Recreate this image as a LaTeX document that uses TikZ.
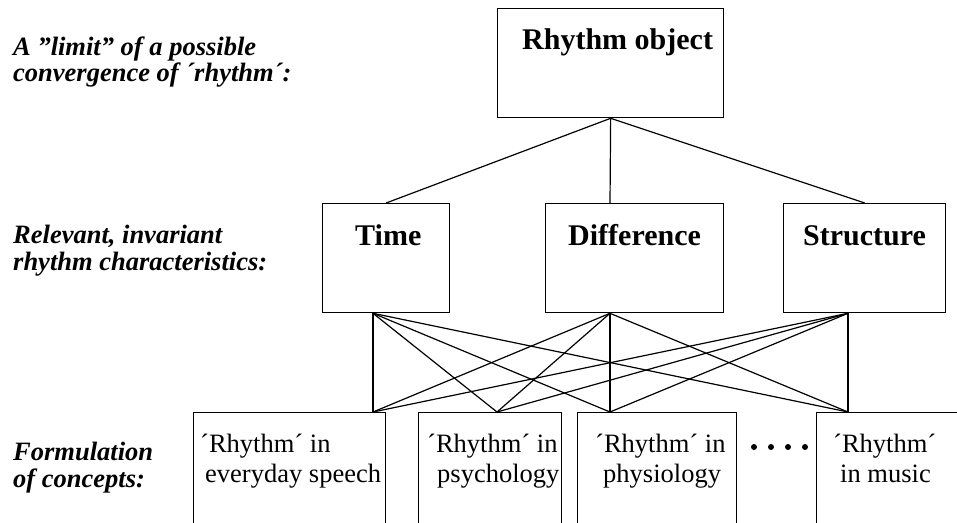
\documentclass[tikz,border=0pt]{standalone}
\usepackage{fontspec}
\setmainfont{Liberation Serif}
\begin{document}
\begin{tikzpicture}[x=1pt,y=-1pt,
  box/.style={draw, line width=1.3pt, rectangle, inner sep=0pt,
    anchor=north west, minimum height=109pt},
  link/.style={line width=1.2pt},
  title/.style={anchor=base west, inner sep=0pt,
    font=\fontsize{30}{34}\selectfont\bfseries},
  level/.style={anchor=base west, inner sep=0pt,
    font=\fontsize{26.5}{30}\selectfont\bfseries\itshape},
  concept/.style={anchor=base west, inner sep=0pt,
    font=\fontsize{26.5}{30}\selectfont},
  dot/.style={fill=black, circle, inner sep=0pt, minimum size=6pt}]
\useasboundingbox (0,0) rectangle (957,522);
\clip (0,0) rectangle (957,522);

% level labels
\node[level] (l1a) at (13,55) {A ”limit” of a possible};
\node[level] (l1b) at (13,81) {convergence of ´rhythm´:};
\node[level] (l2a) at (13,243) {Relevant, invariant};
\node[level] (l2b) at (13,270) {rhythm characteristics:};
\node[level] (l3a) at (13,460) {Formulation};
\node[level] (l3b) at (13,487) {of concepts:};

% boxes
\node[box, minimum width=226pt] (obj) at (497,8) {};
\node[box, minimum width=127pt] (time) at (322,203) {};
\node[box, minimum width=178pt] (diff) at (545,203) {};
\node[box, minimum width=162pt] (struct) at (783,203) {};
\node[box, minimum width=192pt, minimum height=112pt] (c1) at (193,412) {};
\node[box, minimum width=143pt, minimum height=112pt] (c2) at (418,412) {};
\node[box, minimum width=159pt, minimum height=112pt] (c3) at (577,412) {};
\node[box, minimum width=184pt, minimum height=112pt] (c4) at (816,412) {};

% box titles
\node[title] (tobj) at (522,49) {Rhythm object};
\node[title] (ttime) at (355,245) {Time};
\node[title] (tdiff) at (568,245) {Difference};
\node[title] (tstruct) at (803,245) {Structure};

% concept texts
\node[concept] (c1a) at (200,452) {´Rhythm´ in};
\node[concept] (c1b) at (205,482) {everyday speech};
\node[concept] (c2a) at (427,452) {´Rhythm´ in};
\node[concept] (c2b) at (437,482) {psychology};
\node[concept] (c3a) at (595,452) {´Rhythm´ in};
\node[concept] (c3b) at (603,482) {physiology};
\node[concept] (c4a) at (833,452) {´Rhythm´};
\node[concept] (c4b) at (840,482) {in music};

% ellipsis dots
\node[dot] (d1) at (754,447) {};
\node[dot] (d2) at (771,447) {};
\node[dot] (d3) at (788,447) {};
\node[dot] (d4) at (805,447) {};

% attachment points on the box edges
\path (diff.north west) ++(65,0) coordinate (diffN);
\path (time.south west) ++(51,0) coordinate (timeS);
\path (diff.south west) ++(65,0) coordinate (diffS);
\path (struct.south west) ++(65,0) coordinate (structS);
\path (c1.north west) ++(180,0) coordinate (c1N);
\path (c2.north west) ++(79,0) coordinate (c2N);
\path (c3.north west) ++(33,0) coordinate (c3N);
\path (c4.north west) ++(32,0) coordinate (c4N);

% object to characteristics
\draw[link] (obj.south) -- (time.north);
\draw[link] (obj.south) -- (diffN);
\draw[link] (obj.south) -- (struct.north);

% characteristics to concepts
\foreach \s in {timeS, diffS, structS}
  \foreach \c in {c1N, c2N, c3N, c4N}
    \draw[link] (\s) -- (\c);
\end{tikzpicture}
\end{document}
